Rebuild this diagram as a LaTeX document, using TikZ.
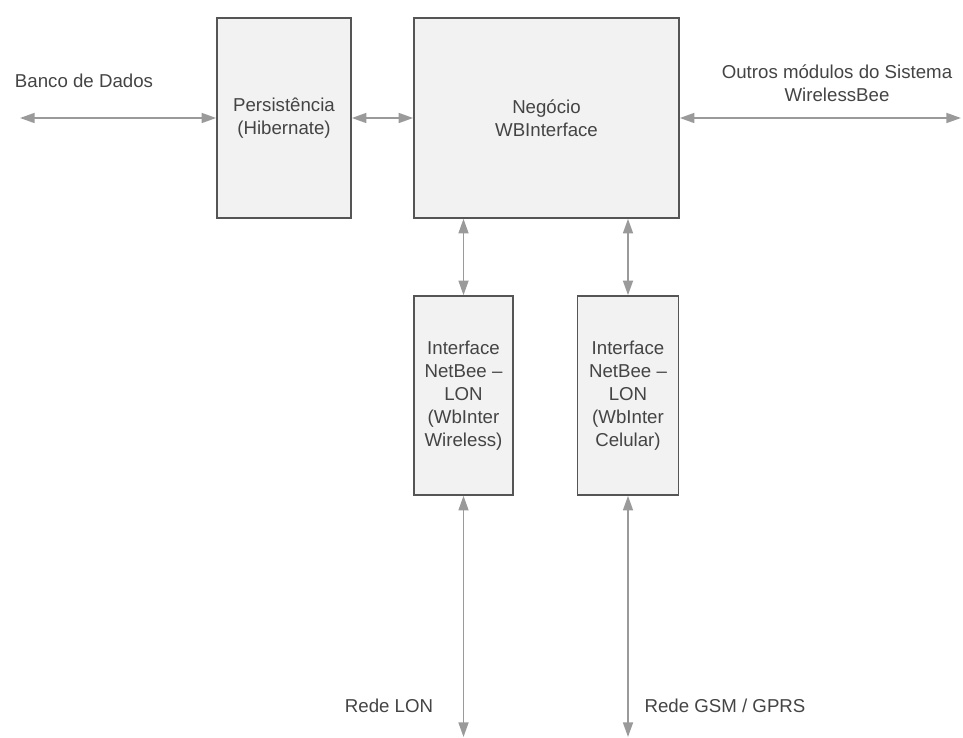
\documentclass[tikz,border=0pt]{standalone}
\usepackage{fontspec}
\setmainfont{Liberation Sans}
\usepackage{xcolor}
\usetikzlibrary{arrows.meta}
\definecolor{boxgray}{HTML}{F2F2F2}
\definecolor{linegray}{HTML}{555555}
\definecolor{arrowgray}{HTML}{9A9A9A}
\definecolor{textgray}{HTML}{444444}

\begin{document}
\begin{tikzpicture}[x=0.75pt,y=-0.75pt,
    every node/.style={font=\fontsize{14}{17.3}\selectfont,text=textgray},
    bloco/.style={draw=linegray,line width=1.2pt,fill=boxgray,align=center,inner sep=0pt},
    seta/.style={{Triangle[length=11pt,width=7.5pt]}-{Triangle[length=11pt,width=7.5pt]},arrowgray,line width=1.3pt},
    rotulo/.style={align=center}]
    \useasboundingbox (0,0) rectangle (963,738);
    % blocos
    \node[bloco,minimum width=100.5pt,minimum height=150pt] (pers) at (284,118) {Persistência\\(Hibernate)};
    \node[bloco,minimum width=198.75pt,minimum height=150pt] (neg) at (546.5,118) {Negócio\\WBInterface};
    \node[bloco,minimum width=74.25pt,minimum height=149.25pt] (ifw) at (463.5,395.5) {Interface\\NetBee –\\LON\\(WbInter\\Wireless)};
    \node[bloco,minimum width=75.75pt,minimum height=149.25pt] (ifc) at (628,395.5) {Interface\\NetBee –\\LON\\(WbInter\\Celular)};
    % extremidades livres
    \coordinate (bd) at (20,118);
    \coordinate (mod) at (961,118);
    \coordinate (lon) at (463.5,737);
    \coordinate (gsm) at (628,737);
    % setas
    \draw[seta] (bd) -- (pers.west);
    \draw[seta] (pers.east) -- (neg.west);
    \draw[seta] (neg.east) -- (mod);
    \draw[seta] (ifw.north |- neg.south) -- (ifw.north);
    \draw[seta] (ifc.north |- neg.south) -- (ifc.north);
    \draw[seta] (ifw.south) -- (lon);
    \draw[seta] (ifc.south) -- (gsm);
    % rotulos
    \node[rotulo] (bdtxt) at (84,81) {Banco de Dados};
    \node[rotulo] (modtxt) at (837,83.5) {Outros módulos do Sistema\\WirelessBee};
    \node[rotulo] (lontxt) at (389,706) {Rede LON};
    \node[rotulo] (gsmtxt) at (725,706) {Rede GSM / GPRS};
\end{tikzpicture}
\end{document}
